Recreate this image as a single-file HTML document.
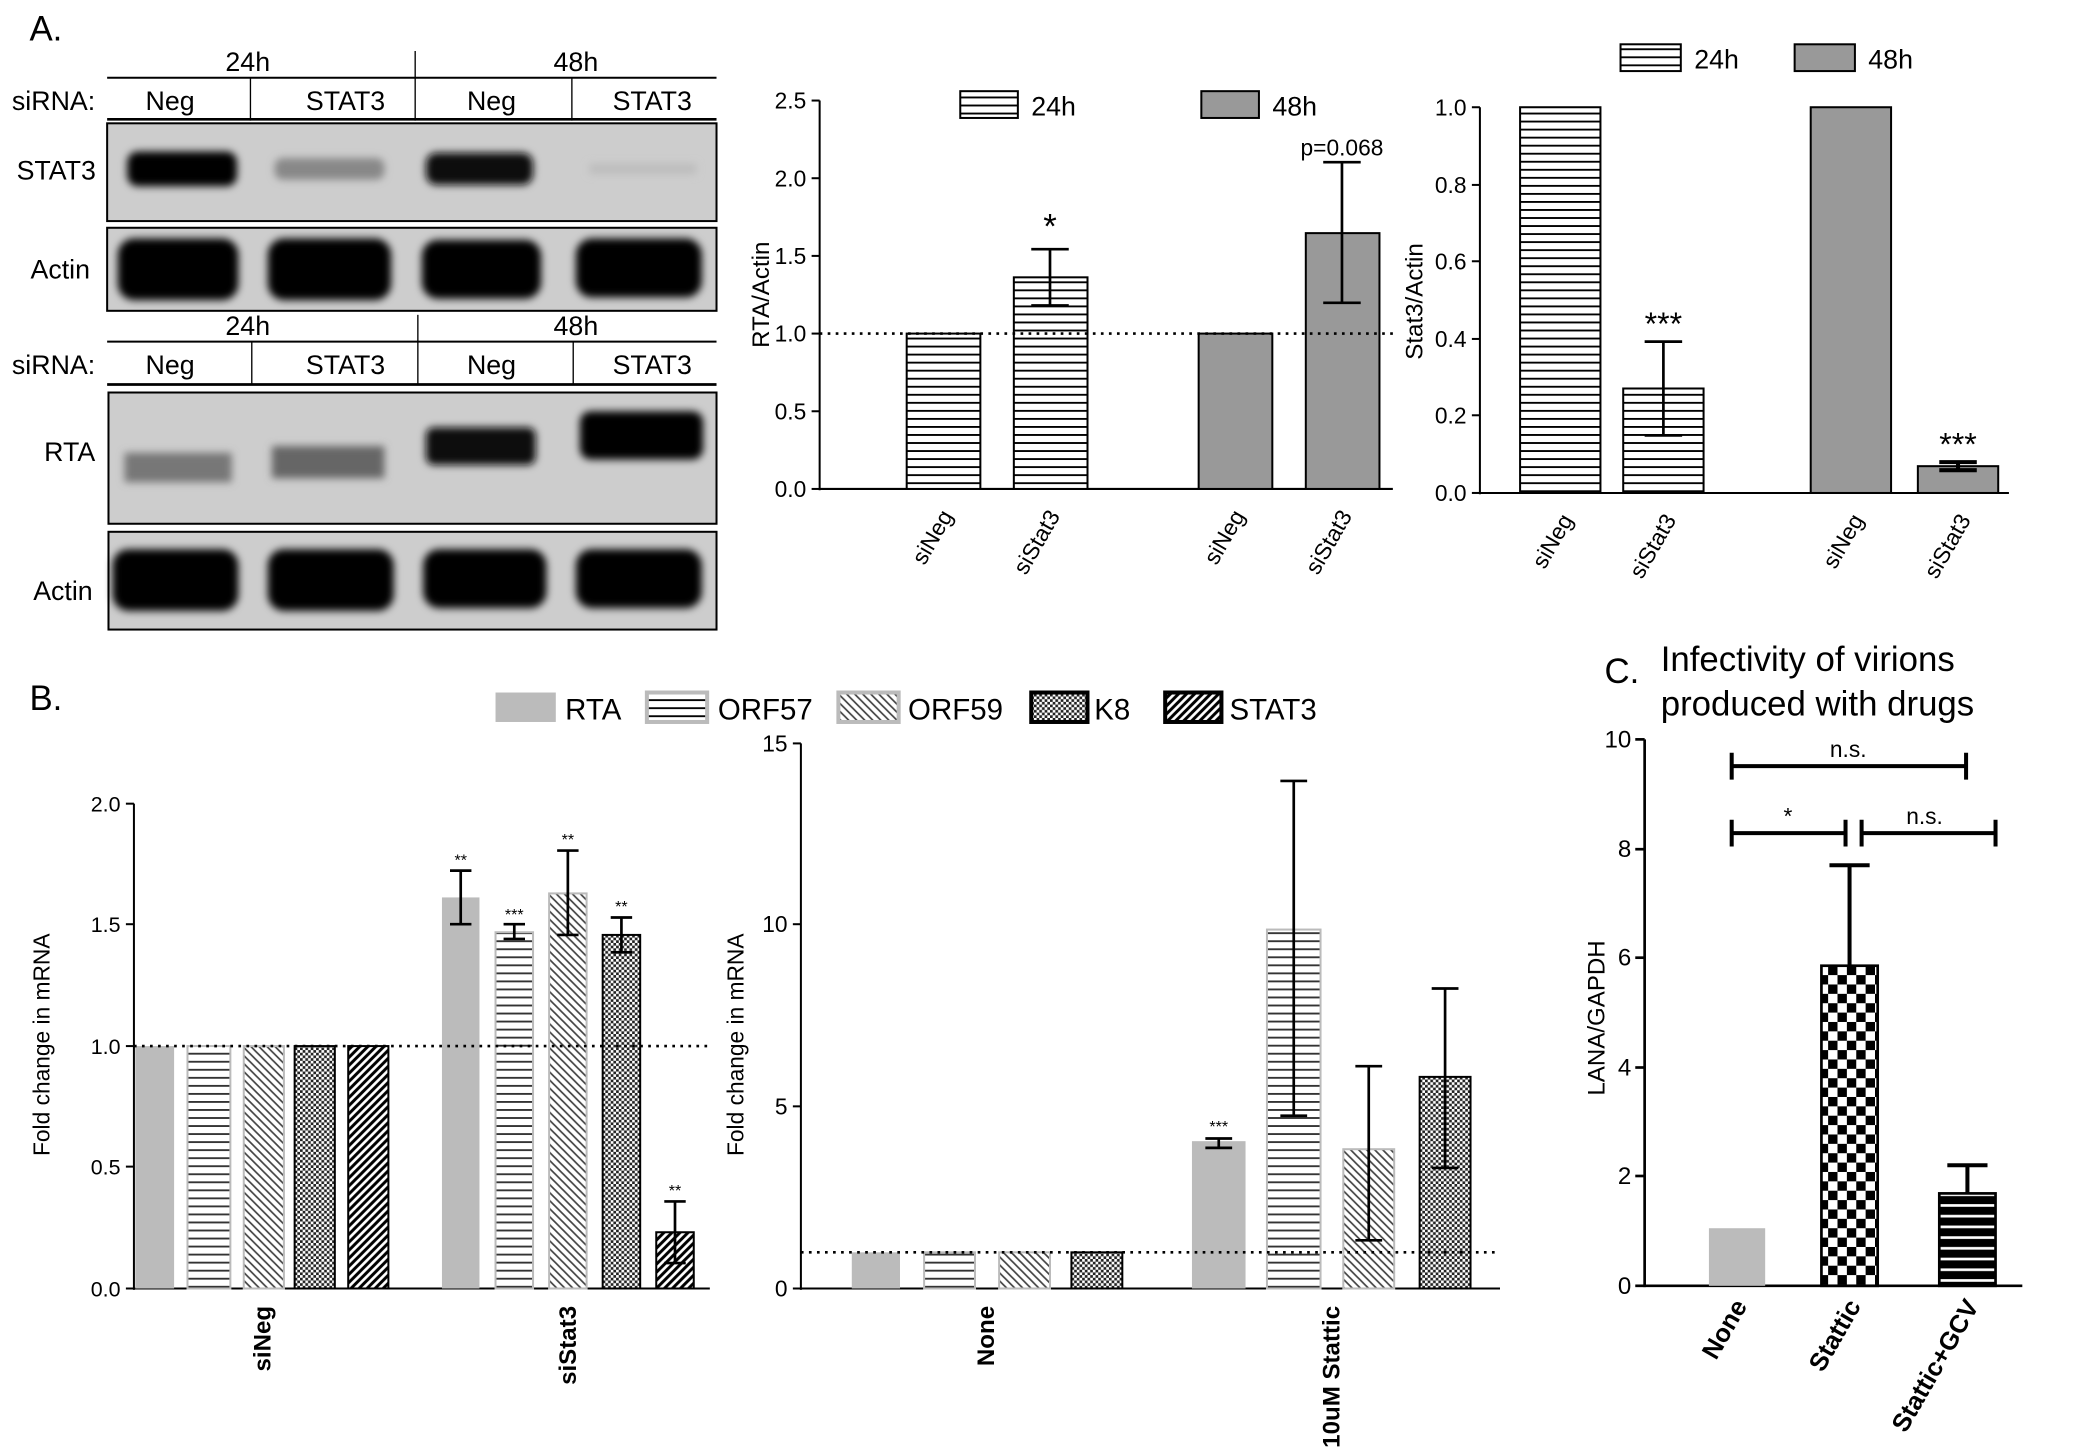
<!DOCTYPE html>
<html><head><meta charset="utf-8"><style>html,body{margin:0;padding:0;background:#fff}svg{display:block}text{font-family:"Liberation Sans",Arial,sans-serif}</style></head>
<body>
<svg width="2100" height="1456" viewBox="0 0 1568 1087" xmlns="http://www.w3.org/2000/svg">
<defs>
<pattern id="hz" width="8" height="6" patternUnits="userSpaceOnUse"><rect width="8" height="6" fill="#fff"/><rect y="0" width="8" height="1.4" fill="#000"/></pattern>
<pattern id="hzg" width="8" height="6" patternUnits="userSpaceOnUse"><rect width="8" height="6" fill="#fff"/><rect y="0" width="8" height="1.4" fill="#333"/></pattern>
<pattern id="dg" width="6" height="6" patternUnits="userSpaceOnUse"><rect width="6" height="6" fill="#fff"/><path d="M0,0L6,6M-2,4L2,8M4,-2L8,2" stroke="#444" stroke-width="1.3"/></pattern>
<pattern id="dd" width="6" height="6" patternUnits="userSpaceOnUse"><rect width="6" height="6" fill="#fff"/><path d="M0,6L6,0M-2,2L2,-2M4,8L8,4" stroke="#000" stroke-width="2.2"/></pattern>
<pattern id="ck" width="4" height="4" patternUnits="userSpaceOnUse"><rect width="4" height="4" fill="#222"/><rect width="2" height="2" fill="#fff"/><rect x="2" y="2" width="2" height="2" fill="#fff"/></pattern>
<pattern id="bc" width="14" height="14" patternUnits="userSpaceOnUse"><rect width="14" height="14" fill="#fff"/><rect width="7" height="7" fill="#000"/><rect x="7" y="7" width="7" height="7" fill="#000"/></pattern>
<pattern id="bh" width="8" height="8" patternUnits="userSpaceOnUse"><rect width="8" height="8" fill="#000"/><rect y="3" width="8" height="2" fill="#fff"/></pattern>
<filter id="bl"><feGaussianBlur stdDeviation="3"/></filter>
</defs>

<!-- Panel A blots -->
<text x="22" y="30" font-size="26">A.</text>
<g font-size="20" text-anchor="middle">
<text x="185" y="53">24h</text><text x="430" y="53">48h</text>
<line x1="80" y1="58" x2="535" y2="58" stroke="#000" stroke-width="1.5"/>
<line x1="310" y1="38" x2="310" y2="90" stroke="#000"/>
<line x1="187" y1="58" x2="187" y2="90" stroke="#000"/><line x1="427" y1="58" x2="427" y2="90" stroke="#000"/>
<text x="40" y="82">siRNA:</text><text x="127" y="82">Neg</text><text x="258" y="82">STAT3</text><text x="367" y="82">Neg</text><text x="487" y="82">STAT3</text>
<line x1="80" y1="89" x2="535" y2="89" stroke="#000" stroke-width="2"/>
<text x="42" y="134">STAT3</text><text x="45" y="208">Actin</text>
<text x="185" y="250">24h</text><text x="430" y="250">48h</text>
<line x1="80" y1="255" x2="535" y2="255" stroke="#000" stroke-width="1.5"/>
<line x1="312" y1="235" x2="312" y2="287" stroke="#000"/>
<line x1="188" y1="255" x2="188" y2="287" stroke="#000"/><line x1="428" y1="255" x2="428" y2="287" stroke="#000"/>
<text x="40" y="279">siRNA:</text><text x="127" y="279">Neg</text><text x="258" y="279">STAT3</text><text x="367" y="279">Neg</text><text x="487" y="279">STAT3</text>
<line x1="80" y1="287" x2="535" y2="287" stroke="#000" stroke-width="2"/>
<text x="52" y="344">RTA</text><text x="47" y="448">Actin</text>
</g>
<rect x="80" y="92" width="455" height="73" fill="#cdcdcd" stroke="#000" stroke-width="1.5"/>
<rect x="80" y="170" width="455" height="62" fill="#cdcdcd" stroke="#000" stroke-width="1.5"/>
<rect x="81" y="293" width="454" height="98" fill="#cdcdcd" stroke="#000" stroke-width="1.5"/>
<rect x="81" y="397" width="454" height="73" fill="#cdcdcd" stroke="#000" stroke-width="1.5"/>
<g filter="url(#bl)">
<rect x="95" y="113" width="82" height="26" rx="8" fill="#000"/>
<rect x="205" y="118" width="82" height="16" rx="6" fill="#888"/>
<rect x="318" y="114" width="80" height="24" rx="8" fill="#0a0a0a"/>
<rect x="440" y="122" width="80" height="8" fill="#bdbdbd"/>
<rect x="88" y="178" width="90" height="46" rx="12" fill="#000"/>
<rect x="200" y="178" width="92" height="46" rx="12" fill="#000"/>
<rect x="315" y="179" width="89" height="44" rx="12" fill="#000"/>
<rect x="430" y="178" width="94" height="44" rx="12" fill="#000"/>
<rect x="93" y="338" width="80" height="22" fill="#777"/>
<rect x="203" y="333" width="84" height="24" fill="#666"/>
<rect x="318" y="319" width="82" height="28" rx="6" fill="#111"/>
<rect x="433" y="307" width="92" height="36" rx="8" fill="#000"/>
<rect x="84" y="410" width="94" height="46" rx="12" fill="#000"/>
<rect x="200" y="410" width="94" height="46" rx="12" fill="#000"/>
<rect x="316" y="410" width="92" height="44" rx="12" fill="#000"/>
<rect x="430" y="410" width="94" height="44" rx="12" fill="#000"/>
</g>

<!-- Chart A2 -->
<g font-size="17" stroke-width="1.5">
<rect x="717" y="68" width="43" height="20" fill="url(#hz)" stroke="#000"/><text x="770" y="86" font-size="20" stroke="none">24h</text>
<rect x="897" y="68" width="43" height="20" fill="#999" stroke="#000"/><text x="950" y="86" font-size="20" stroke="none">48h</text>
<line x1="612" y1="75" x2="612" y2="366" stroke="#000"/>
<line x1="612" y1="365" x2="1040" y2="365" stroke="#000"/>
<g stroke="#000"><line x1="606" y1="75" x2="612" y2="75"/><line x1="606" y1="133" x2="612" y2="133"/><line x1="606" y1="191" x2="612" y2="191"/><line x1="606" y1="249" x2="612" y2="249"/><line x1="606" y1="307" x2="612" y2="307"/><line x1="606" y1="365" x2="612" y2="365"/></g>
<g text-anchor="end"><text x="602" y="81">2.5</text><text x="602" y="139">2.0</text><text x="602" y="197">1.5</text><text x="602" y="255">1.0</text><text x="602" y="313">0.5</text><text x="602" y="371">0.0</text></g>
<text transform="translate(574,220) rotate(-90)" text-anchor="middle" font-size="18">RTA/Actin</text>
<rect x="677" y="249" width="55" height="116" fill="url(#hz)" stroke="#000"/>
<rect x="757" y="207" width="55" height="158" fill="url(#hz)" stroke="#000"/>
<rect x="895" y="249" width="55" height="116" fill="#999" stroke="#000"/>
<rect x="975" y="174" width="55" height="191" fill="#999" stroke="#000"/>
<g stroke="#000" stroke-width="2"><path d="M784 186V228M770 186H798M770 228H798"/><path d="M1002 121V226M988 121H1016M988 226H1016"/></g>
<text x="784" y="178" font-size="26" text-anchor="middle">*</text>
<text x="1002" y="116" text-anchor="middle">p=0.068</text>
<line x1="612" y1="249" x2="1040" y2="249" stroke="#000" stroke-dasharray="2,4" stroke-width="2"/>
<g text-anchor="end"><text transform="translate(712,385) rotate(-60)">siNeg</text><text transform="translate(792,385) rotate(-60)">siStat3</text><text transform="translate(930,385) rotate(-60)">siNeg</text><text transform="translate(1010,385) rotate(-60)">siStat3</text></g>
</g>

<!-- Chart A3 -->
<g font-size="17" stroke-width="1.5">
<rect x="1210" y="33" width="45" height="20" fill="url(#hz)" stroke="#000"/><text x="1265" y="51" font-size="20">24h</text>
<rect x="1340" y="33" width="45" height="20" fill="#999" stroke="#000"/><text x="1395" y="51" font-size="20">48h</text>
<line x1="1105" y1="80" x2="1105" y2="369" stroke="#000"/>
<line x1="1105" y1="368" x2="1500" y2="368" stroke="#000"/>
<g stroke="#000"><line x1="1099" y1="80" x2="1105" y2="80"/><line x1="1099" y1="138" x2="1105" y2="138"/><line x1="1099" y1="195" x2="1105" y2="195"/><line x1="1099" y1="253" x2="1105" y2="253"/><line x1="1099" y1="310" x2="1105" y2="310"/><line x1="1099" y1="368" x2="1105" y2="368"/></g>
<g text-anchor="end"><text x="1095" y="86">1.0</text><text x="1095" y="144">0.8</text><text x="1095" y="201">0.6</text><text x="1095" y="259">0.4</text><text x="1095" y="316">0.2</text><text x="1095" y="374">0.0</text></g>
<text transform="translate(1062,225) rotate(-90)" text-anchor="middle" font-size="18">Stat3/Actin</text>
<rect x="1135" y="80" width="60" height="288" fill="url(#hz)" stroke="#000"/>
<rect x="1212" y="290" width="60" height="78" fill="url(#hz)" stroke="#000"/>
<rect x="1352" y="80" width="60" height="288" fill="#999" stroke="#000"/>
<rect x="1432" y="348" width="60" height="20" fill="#999" stroke="#000"/>
<g stroke="#000" stroke-width="2"><path d="M1242 255V325M1228 255H1256M1228 325H1256"/><path d="M1462 345V351M1448 345H1476M1448 351H1476" stroke-width="3"/></g>
<text x="1242" y="250" font-size="24" text-anchor="middle">***</text>
<text x="1462" y="340" font-size="24" text-anchor="middle">***</text>
<g text-anchor="end"><text transform="translate(1175,388) rotate(-60)">siNeg</text><text transform="translate(1252,388) rotate(-60)">siStat3</text><text transform="translate(1392,388) rotate(-60)">siNeg</text><text transform="translate(1472,388) rotate(-60)">siStat3</text></g>
</g>

<!-- Panel B legend -->
<text x="22" y="530" font-size="26">B.</text>
<g font-size="22" stroke-width="1.5">
<rect x="370" y="517" width="45" height="22" fill="#bbb"/><text x="422" y="537">RTA</text>
<rect x="483" y="517" width="45" height="22" fill="url(#hz)" stroke="#bbb" stroke-width="3"/><text x="536" y="537">ORF57</text>
<rect x="626" y="517" width="45" height="22" fill="url(#dg)" stroke="#bbb" stroke-width="3"/><text x="678" y="537">ORF59</text>
<rect x="770" y="517" width="42" height="22" fill="url(#ck)" stroke="#000" stroke-width="3"/><text x="817" y="537">K8</text>
<rect x="870" y="517" width="42" height="22" fill="url(#dd)" stroke="#000" stroke-width="3"/><text x="918" y="537">STAT3</text>
</g>

<!-- Chart B left -->
<g font-size="16" stroke-width="1.5">
<line x1="100" y1="600" x2="100" y2="963" stroke="#000"/>
<line x1="100" y1="962" x2="530" y2="962" stroke="#000"/>
<g stroke="#000"><line x1="94" y1="600" x2="100" y2="600"/><line x1="94" y1="690" x2="100" y2="690"/><line x1="94" y1="781" x2="100" y2="781"/><line x1="94" y1="871" x2="100" y2="871"/><line x1="94" y1="962" x2="100" y2="962"/></g>
<g text-anchor="end"><text x="90" y="606">2.0</text><text x="90" y="696">1.5</text><text x="90" y="787">1.0</text><text x="90" y="877">0.5</text><text x="90" y="968">0.0</text></g>
<text transform="translate(37,780) rotate(-90)" text-anchor="middle" font-size="17">Fold change in  mRNA</text>
<rect x="101" y="781" width="29" height="181" fill="#bbb"/>
<rect x="140" y="781" width="32" height="181" fill="url(#hzg)" stroke="#bbb"/>
<rect x="182" y="781" width="30" height="181" fill="url(#dg)" stroke="#bbb"/>
<rect x="220" y="781" width="30" height="181" fill="url(#ck)" stroke="#000"/>
<rect x="260" y="781" width="30" height="181" fill="url(#dd)" stroke="#000"/>
<rect x="330" y="670" width="28" height="292" fill="#bbb"/>
<rect x="370" y="696" width="28" height="266" fill="url(#hzg)" stroke="#bbb"/>
<rect x="410" y="667" width="28" height="295" fill="url(#dg)" stroke="#bbb"/>
<rect x="450" y="698" width="28" height="264" fill="url(#ck)" stroke="#000"/>
<rect x="490" y="920" width="28" height="42" fill="url(#dd)" stroke="#000"/>
<g stroke="#000" stroke-width="2"><path d="M344 650V690M336 650H352M336 690H352"/><path d="M384 690V701M376 690H392M376 701H392"/><path d="M424 635V698M416 635H432M416 698H432"/><path d="M464 685V711M456 685H472M456 711H472"/><path d="M504 897V943M496 897H512M496 943H512"/></g>
<g font-size="12" text-anchor="middle"><text x="344" y="646">**</text><text x="384" y="687">***</text><text x="424" y="631">**</text><text x="464" y="681">**</text><text x="504" y="893">**</text></g>
<line x1="100" y1="781" x2="530" y2="781" stroke="#000" stroke-dasharray="2,4" stroke-width="2"/>
<g text-anchor="end" font-weight="bold" font-size="18"><text transform="translate(202,975) rotate(-90)">siNeg</text><text transform="translate(430,975) rotate(-90)">siStat3</text></g>
</g>

<!-- Chart B right -->
<g font-size="17" stroke-width="1.5">
<line x1="598" y1="555" x2="598" y2="963" stroke="#000"/>
<line x1="598" y1="962" x2="1120" y2="962" stroke="#000"/>
<g stroke="#000"><line x1="592" y1="555" x2="598" y2="555"/><line x1="592" y1="690" x2="598" y2="690"/><line x1="592" y1="826" x2="598" y2="826"/><line x1="592" y1="962" x2="598" y2="962"/></g>
<g text-anchor="end"><text x="588" y="561">15</text><text x="588" y="696">10</text><text x="588" y="832">5</text><text x="588" y="968">0</text></g>
<text transform="translate(555,780) rotate(-90)" text-anchor="middle" font-size="17">Fold change in  mRNA</text>
<rect x="636" y="935" width="36" height="27" fill="#bbb"/>
<rect x="690" y="935" width="38" height="27" fill="url(#hzg)" stroke="#bbb"/>
<rect x="746" y="935" width="38" height="27" fill="url(#dg)" stroke="#bbb"/>
<rect x="800" y="935" width="38" height="27" fill="url(#ck)" stroke="#000"/>
<rect x="890" y="852" width="40" height="110" fill="#bbb"/>
<rect x="946" y="694" width="40" height="268" fill="url(#hzg)" stroke="#bbb"/>
<rect x="1003" y="858" width="38" height="104" fill="url(#dg)" stroke="#bbb"/>
<rect x="1060" y="804" width="38" height="158" fill="url(#ck)" stroke="#000"/>
<g stroke="#000" stroke-width="2"><path d="M910 850V857M900 850H920M900 857H920"/><path d="M966 583V833M956 583H976M956 833H976"/><path d="M1022 796V926M1012 796H1032M1012 926H1032"/><path d="M1079 738V872M1069 738H1089M1069 872H1089"/></g>
<text x="910" y="845" font-size="12" text-anchor="middle">***</text>
<line x1="598" y1="935" x2="1120" y2="935" stroke="#000" stroke-dasharray="2,4" stroke-width="2"/>
<g text-anchor="end" font-weight="bold" font-size="18"><text transform="translate(742,975) rotate(-90)">None</text><text transform="translate(1000,975) rotate(-90)">10uM Stattic</text></g>
</g>

<!-- Panel C -->
<g font-size="17" stroke-width="2">
<text x="1198" y="510" font-size="26">C.</text>
<text x="1240" y="501" font-size="26">Infectivity of virions</text>
<text x="1240" y="534" font-size="26">produced with drugs</text>
<line x1="1228" y1="552" x2="1228" y2="961" stroke="#000"/>
<line x1="1228" y1="960" x2="1510" y2="960" stroke="#000"/>
<g stroke="#000"><line x1="1221" y1="552" x2="1228" y2="552"/><line x1="1221" y1="634" x2="1228" y2="634"/><line x1="1221" y1="715" x2="1228" y2="715"/><line x1="1221" y1="797" x2="1228" y2="797"/><line x1="1221" y1="878" x2="1228" y2="878"/><line x1="1221" y1="960" x2="1228" y2="960"/></g>
<g text-anchor="end" font-size="18"><text x="1218" y="558">10</text><text x="1218" y="640">8</text><text x="1218" y="721">6</text><text x="1218" y="803">4</text><text x="1218" y="884">2</text><text x="1218" y="966">0</text></g>
<text transform="translate(1198,760) rotate(-90)" text-anchor="middle" font-size="18">LANA/GAPDH</text>
<rect x="1276" y="917" width="42" height="43" fill="#bbb"/>
<rect x="1360" y="721" width="42" height="239" fill="url(#bc)" stroke="#000"/>
<rect x="1448" y="891" width="42" height="69" fill="url(#bh)" stroke="#000"/>
<g stroke="#000" stroke-width="3"><path d="M1381 721V646M1366 646H1396"/><path d="M1469 891V870M1454 870H1484"/>
<path d="M1293 572H1468M1293 562V582M1468 562V582"/><path d="M1293 622H1378M1293 612V632M1378 612V632"/><path d="M1390 622H1490M1390 612V632M1490 612V632"/></g>
<text x="1380" y="565" text-anchor="middle">n.s.</text><text x="1335" y="615" text-anchor="middle">*</text><text x="1437" y="615" text-anchor="middle">n.s.</text>
<g text-anchor="end" font-weight="bold" font-size="19"><text transform="translate(1305,975) rotate(-60)">None</text><text transform="translate(1390,975) rotate(-60)">Stattic</text><text transform="translate(1478,975) rotate(-60)">Stattic+GCV</text></g>
</g>
</svg>
</body></html>
